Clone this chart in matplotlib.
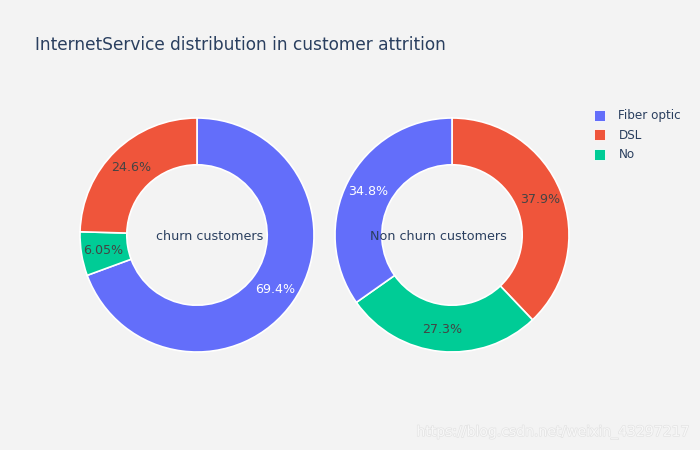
import matplotlib.pyplot as plt
import matplotlib.patheffects as pe
from matplotlib.lines import Line2D
import numpy as np

# data (customer counts per InternetService type)
services = ["Fiber optic", "DSL", "No"]
churn_counts = [1297, 459, 113]
nonchurn_counts = [1799, 1962, 1413]

# drawing order, clockwise from 12 o'clock, as seen in each donut
churn_order = ["Fiber optic", "No", "DSL"]
nonchurn_order = ["DSL", "No", "Fiber optic"]

colors = {"Fiber optic": "#636efa", "DSL": "#EF553B", "No": "#00cc96"}
txt_colors = {"Fiber optic": "white", "DSL": "#444444", "No": "#444444"}
bg = "#f3f3f3"
font_col = "#2a3f5f"
plt.rcParams['font.family'] = ['DejaVu Sans']

W, H = 700, 450
fig = plt.figure(figsize=(W / 100, H / 100), dpi=100, facecolor=bg)


def px(v):
    # pixels -> points at dpi 100
    return v * 72 / 100


def donut(cx, cy, r, counts, order, name, name_x):
    ax = fig.add_axes([(cx - r) / W, 1 - (cy + r) / H, 2 * r / W, 2 * r / H])
    ax.set_facecolor(bg)
    vals = [counts[services.index(s)] for s in order]
    total = sum(vals)
    wedges, _ = ax.pie(vals, colors=[colors[s] for s in order], startangle=90,
                       counterclock=False, radius=1,
                       wedgeprops=dict(width=0.4, edgecolor="white", linewidth=1.2))
    # percentage labels, 3 significant digits like plotly
    for w, s, v in zip(wedges, order, vals):
        ang = np.deg2rad((w.theta1 + w.theta2) / 2)
        ax.text(0.81 * np.cos(ang), 0.81 * np.sin(ang), f"{100 * v / total:.3g}%",
                ha="center", va="center", fontsize=px(12.6), color=txt_colors[s])
    ax.set_xlim(-1, 1)
    ax.set_ylim(-1, 1)
    ax.set_aspect("equal")
    ax.axis("off")
    fig.text(name_x / W, 1 - 236 / H, name, ha="center", va="center",
             fontsize=px(12.8), color=font_col)


donut(197, 235, 117, churn_counts, churn_order, "churn customers", 210)
donut(452, 235, 117, nonchurn_counts, nonchurn_order, "Non churn customers", 438)

fig.text(35 / W, 1 - 45 / H, "InternetService distribution in customer attrition",
         ha="left", va="center", fontsize=px(17), color=font_col)

handles = [Line2D([], [], marker="s", linestyle="none", markersize=px(11),
                  markerfacecolor=colors[s], markeredgecolor="white", markeredgewidth=0.6)
           for s in services]
fig.legend(handles, services, loc="upper left", bbox_to_anchor=(592 / W, 1 - 109 / H),
           frameon=False, fontsize=px(12), labelcolor=font_col, handletextpad=1.0,
           labelspacing=0.55, handlelength=1.2, borderaxespad=0, borderpad=0)

fig.text(690 / W, 1 - 432 / H, "https://blog.csdn.net/weixin_43297217",
         ha="right", va="center", fontsize=px(14), color="#f8f8f8",
         path_effects=[pe.withStroke(linewidth=1.0, foreground="#e3e3e3")])

fig.savefig("out.png", dpi=100, facecolor=bg)
